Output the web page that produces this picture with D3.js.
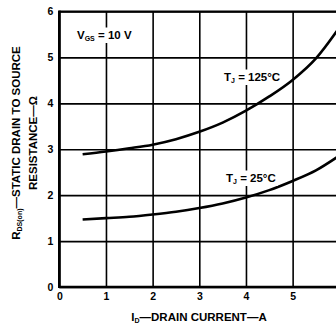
<!DOCTYPE html>
<html><head><meta charset="utf-8">
<script src="https://cdn.jsdelivr.net/npm/d3@7"></script>
<style>
body{margin:0;background:#fff;}
svg{display:block;font-family:"Liberation Sans",Arial,sans-serif;font-weight:bold;}
</style></head>
<body><svg id="c" width="336" height="324"></svg>
<script>
const xTicks = [0,1,2,3,4,5,6];
const yTicks = [0,1,2,3,4,5,6];
const currentA = [0.5,1,1.5,2,2.5,3,3.5,4,4.5,5,5.5,6];
const r125 = [2.89,2.95,3.02,3.10,3.22,3.38,3.58,3.84,4.15,4.51,4.98,5.65];
const r25  = [1.47,1.50,1.53,1.58,1.64,1.72,1.82,1.95,2.11,2.31,2.54,2.86];

const svg = d3.select("#c");
const x = d3.scaleLinear().domain([0,6]).range([59.3,339.3]);
const y = d3.scaleLinear().domain([0,6]).range([287,11.5]);

// grid
svg.append("g").attr("transform","translate(0,287)")
  .call(d3.axisBottom(x).tickValues(xTicks).tickSize(-275.5).tickFormat(""))
  .call(g=>g.select(".domain").remove())
  .call(g=>g.selectAll("line").attr("stroke","#000").attr("stroke-width",1.6));
svg.append("g").attr("transform","translate(59.3,0)")
  .call(d3.axisLeft(y).tickValues(yTicks).tickSize(-280).tickFormat(""))
  .call(g=>g.select(".domain").remove())
  .call(g=>g.selectAll("line").attr("stroke","#000").attr("stroke-width",1.6));

// frame (left & bottom heavier)
svg.append("line").attr("x1",x(0)).attr("x2",x(0)).attr("y1",y(6)-1).attr("y2",y(0)+1).attr("stroke","#000").attr("stroke-width",2.6);
svg.append("line").attr("x1",x(0)).attr("x2",x(6)).attr("y1",y(0)).attr("y2",y(0)).attr("stroke","#000").attr("stroke-width",2.6);
svg.append("line").attr("x1",x(0)).attr("x2",x(6)).attr("y1",y(6)).attr("y2",y(6)).attr("stroke","#000").attr("stroke-width",2);

// tick labels
svg.append("g").attr("transform","translate(0,287)")
  .call(d3.axisBottom(x).tickValues(xTicks).tickSize(0).tickPadding(6).tickFormat(d3.format("d")))
  .call(g=>g.select(".domain").remove())
  .call(g=>g.selectAll("text").attr("font-size",10.5).attr("font-weight","bold").attr("font-family","Liberation Sans, Arial, sans-serif").attr("fill","#000"));
svg.append("g").attr("transform","translate(59.3,0)")
  .call(d3.axisLeft(y).tickValues(yTicks).tickSize(0).tickPadding(6).tickFormat(d3.format("d")))
  .call(g=>g.select(".domain").remove())
  .call(g=>g.selectAll("text").attr("font-size",10.5).attr("font-weight","bold").attr("font-family","Liberation Sans, Arial, sans-serif").attr("fill","#000"));

// curves
const line = d3.line().x((d,i)=>x(currentA[i])).y(d=>y(d)).curve(d3.curveMonotoneX);
[r125,r25].forEach(s=>{
  svg.append("path").attr("d",line(s)).attr("fill","none").attr("stroke","#000").attr("stroke-width",2.6);
});

// labels with white backgrounds
function label(cx, cy, main, sub, rest){
  const g = svg.append("g");
  const t = g.append("text").attr("x",cx).attr("y",cy).attr("font-size",11.5).attr("text-anchor","start");
  t.append("tspan").text(main);
  t.append("tspan").attr("font-size",7).attr("dy",2.5).text(sub);
  t.append("tspan").attr("dy",-2.5).text(rest);
  const bb = t.node().getBBox();
  g.insert("rect","text").attr("x",bb.x-2).attr("y",bb.y-1).attr("width",bb.width+4).attr("height",bb.height+2).attr("fill","#fff");
}
label(77, 38.5, "V", "GS", " = 10 V");
label(224, 80.5, "T", "J", " = 125°C");
label(226, 181.5, "T", "J", " = 25°C");

// x axis title
const xt = svg.append("text").attr("x",199).attr("y",320.5).attr("text-anchor","middle").attr("font-size",11.5);
xt.append("tspan").text("I");
xt.append("tspan").attr("font-size",7).attr("dy",2.5).text("D");
xt.append("tspan").attr("dy",-2.5).text("—DRAIN CURRENT—A");

// y axis title
const yt = svg.append("text").attr("transform","translate(19.5,143) rotate(-90)").attr("text-anchor","middle").attr("font-size",11.5);
yt.append("tspan").text("R");
yt.append("tspan").attr("font-size",7).attr("dy",2.5).text("DS(on)");
yt.append("tspan").attr("dy",-2.5).text("—STATIC DRAIN TO SOURCE");
svg.append("text").attr("transform","translate(36.5,143) rotate(-90)").attr("text-anchor","middle").attr("font-size",11.5).text("RESISTANCE—Ω");
</script></body></html>
